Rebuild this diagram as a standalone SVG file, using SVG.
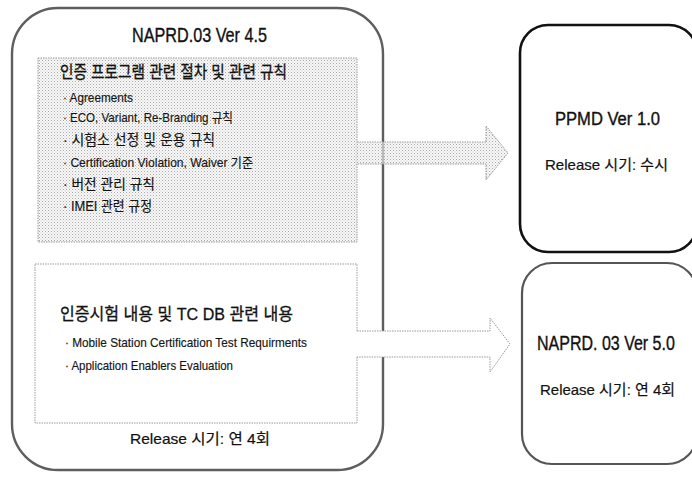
<svg xmlns="http://www.w3.org/2000/svg" width="692" height="478" viewBox="0 0 692 478">
  <style>
    text { font-family: "Liberation Sans", "Noto Sans CJK KR", sans-serif; fill: #111; }
    .title { font-size: 21px; stroke: #111; stroke-width: 0.35; }
    .head { font-size: 17px; stroke: #111; stroke-width: 0.3; }
    .item { font-size: 13px; stroke: #222; stroke-width: 0.15; }
    .rel { font-size: 15px; stroke: #111; stroke-width: 0.2; }
    .outer { fill: #fff; stroke: #5e5e5e; stroke-width: 2.4; }
    .inner { stroke: #9a9a9a; stroke-width: 1; stroke-dasharray: 1.5 1; }
    .shade { fill: url(#dots); }
    .plain { fill: #fff; }
  </style>
  <defs>
    <!-- fine halftone for the shaded panel -->
    <pattern id="dots" width="3" height="3" patternUnits="userSpaceOnUse">
      <rect x="0" y="0" width="3" height="3" fill="#f3f3f3" fill-opacity="0.6"/>
      <rect x="0" y="0" width="1" height="1" fill="#a8a8a8"/>
      <rect x="1.5" y="1.5" width="1" height="1" fill="#c4c4c4"/>
    </pattern>
  </defs>

  <!-- main document frame -->
  <g id="naprd45">
    <rect class="outer" x="12" y="8" width="371" height="462" rx="46" ry="46"/>
    <text class="title" x="132" y="42" textLength="135" lengthAdjust="spacingAndGlyphs">NAPRD.03 Ver 4.5</text>
    <text class="rel" x="130" y="444" textLength="140" lengthAdjust="spacingAndGlyphs">Release 시기: 연 4회</text>
  </g>

  <!-- lower panel: test content -->
  <g id="panel-test">
    <rect class="inner plain" x="35" y="264" width="322" height="159"/>
    <text class="head" x="60" y="320" textLength="233" lengthAdjust="spacingAndGlyphs">인증시험 내용 및 TC DB 관련 내용</text>
    <text class="item" x="65" y="347" textLength="242" lengthAdjust="spacingAndGlyphs">· Mobile Station Certification Test Requirments</text>
    <text class="item" x="65" y="370" textLength="168" lengthAdjust="spacingAndGlyphs">· Application Enablers Evaluation</text>
  </g>

  <!-- upper panel: program procedures -->
  <g id="panel-program">
    <rect class="inner shade" x="38" y="58" width="319" height="184"/>
    <text class="head" x="60" y="78" textLength="227" lengthAdjust="spacingAndGlyphs">인증 프로그램 관련 절차 및 관련 규칙</text>
    <text class="item" x="63" y="102" textLength="70" lengthAdjust="spacingAndGlyphs">· Agreements</text>
    <text class="item" x="63" y="122" textLength="170" lengthAdjust="spacingAndGlyphs">· ECO, Variant, Re-Branding 규칙</text>
    <text class="item" x="63" y="145" style="font-size:15px" textLength="152" lengthAdjust="spacingAndGlyphs">· 시험소 선정 및 운용 규칙</text>
    <text class="item" x="63" y="167" textLength="190" lengthAdjust="spacingAndGlyphs">· Certification Violation, Waiver 기준</text>
    <text class="item" x="63" y="189" style="font-size:14px" textLength="92" lengthAdjust="spacingAndGlyphs">· 버전 관리 규칙</text>
    <text class="item" x="63" y="211" style="font-size:14px" textLength="89" lengthAdjust="spacingAndGlyphs">· IMEI 관련 규정</text>
  </g>

  <!-- block arrows leaving the panels -->
  <g id="connectors">
    <g id="arrow-ppmd">
      <polygon class="shade" points="355,142 486,142 486,126 508,153 486,180 486,164 355,164"/>
      <polyline fill="none" class="inner" points="357,142 486,142 486,126 508,153 486,180 486,164 357,164"/>
    </g>
    <g id="arrow-naprd50">
      <polygon class="plain" points="355,331 490,331 490,318 510,344 490,372 490,357 355,357"/>
      <polyline fill="none" class="inner" points="357,331 490,331 490,318 510,344 490,372 490,357 357,357"/>
    </g>
  </g>

  <!-- target documents -->
  <g id="ppmd10">
    <rect x="520" y="25" width="177" height="227" rx="28" ry="28" fill="#fff" stroke="#111" stroke-width="2.6"/>
    <text class="title" x="555" y="125" style="font-size:18px" textLength="105" lengthAdjust="spacingAndGlyphs">PPMD Ver 1.0</text>
    <text class="rel" x="545" y="170" textLength="123" lengthAdjust="spacingAndGlyphs">Release 시기: 수시</text>
  </g>

  <g id="naprd50">
    <rect x="522" y="263" width="175" height="201" rx="30" ry="30" fill="#fff" stroke="#555" stroke-width="2.2"/>
    <!-- condensed horizontally so the title stays inside the frame -->
    <text class="title" transform="translate(537 350) scale(0.8 1)" x="0" y="0" style="font-size:20px">NAPRD. 03 Ver 5.0</text>
    <text class="rel" x="540" y="395" textLength="135" lengthAdjust="spacingAndGlyphs">Release 시기: 연 4회</text>
  </g>
</svg>
